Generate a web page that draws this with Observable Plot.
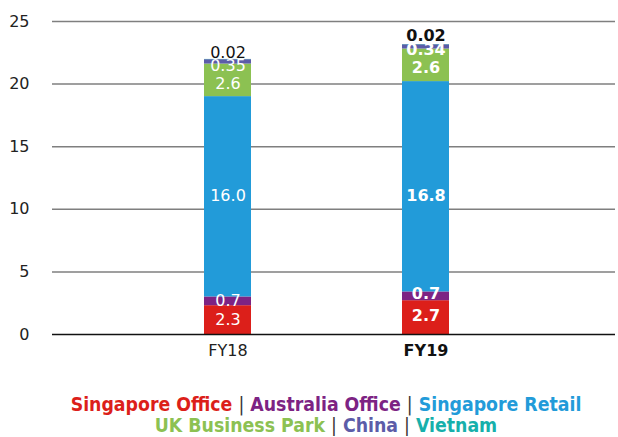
<!DOCTYPE html>
<html>
<head>
<meta charset="utf-8">
<script src="https://cdn.jsdelivr.net/npm/d3@7"></script>
<script src="https://cdn.jsdelivr.net/npm/@observablehq/plot@0.6"></script>
<style>
  html, body { margin: 0; padding: 0; background: #fff; overflow: hidden; font-family: "DejaVu Sans", sans-serif; }
  #chart svg { display: block; }
  #legend { box-sizing: border-box; width: 618px; padding-left: 34px; text-align: center; font-family: "DejaVu Sans Condensed", "DejaVu Sans", sans-serif; font-weight: bold; font-size: 19.3px; line-height: 21px; margin-top: 22px; white-space: nowrap; }
  #legend .sep { color: #333; font-weight: normal; }
</style>
</head>
<body>
<div id="chart"></div>
<div id="legend"></div>
<script>
const years = ["FY18", "FY19"];
const segments = ["Singapore Office", "Australia Office", "Singapore Retail", "UK Business Park", "China", "Vietnam"];
const colors = ["#dc1f1a", "#7d2383", "#229bd9", "#8cc152", "#5c5ca8", "#17b0ab"];
const fy18 = [2.3, 0.7, 16.0, 2.6, 0.35, 0.02];
const fy19 = [2.7, 0.7, 16.8, 2.6, 0.34, 0.02];
const yTicks = [0, 5, 10, 15, 20, 25];

const data = [];
[fy18, fy19].forEach((vals, i) => vals.forEach((v, j) => data.push({year: years[i], segment: segments[j], value: v})));
const fmt = v => v >= 1 ? v.toFixed(1) : String(v);

const labels = (yr, weight, segs, fill, dy) => Plot.text(data.filter(d => d.year === yr), Plot.stackY({
  x: "year", y: "value", z: "segment",
  text: d => segs.includes(d.segment) ? fmt(d.value) : "",
  fill, fontSize: 16, fontWeight: weight, dy
}));
const low = segments.slice(0, 2), mid = segments.slice(2, 3), high = segments.slice(3, 5), peak = segments.slice(5);

const chart = Plot.plot({
  width: 618,
  height: 372,
  marginTop: 21,
  marginBottom: 38,
  marginLeft: 52,
  marginRight: 3,
  style: {fontFamily: "DejaVu Sans, sans-serif", fontSize: "16px", color: "#222"},
  x: {domain: years, paddingInner: 0.763, paddingOuter: 0.803, align: 0.478, label: null},
  y: {domain: [0, 25], label: null},
  color: {domain: segments, range: colors},
  marks: [
    Plot.ruleY(yTicks.filter(t => t > 0), {stroke: "#7f7f7f", strokeWidth: 1.5}),
    Plot.axisY(yTicks, {tickSize: 0, tickPadding: 23, label: null, fontSize: 16, fill: "#222"}),
    Plot.barY(data, {x: "year", y: "value", fill: "segment", inset: 0}),
    Plot.ruleY([0], {stroke: "#111", strokeWidth: 1.5}),
    Plot.axisX(["FY18"], {tickSize: 0, tickPadding: 10, label: null, fontSize: 16, fill: "#222"}),
    Plot.axisX(["FY19"], {tickSize: 0, tickPadding: 10, label: null, fontSize: 16, fontWeight: "bold", fill: "#111"}),
    labels("FY18", "normal", low, "white", 0),
    labels("FY19", "bold", low, "white", -2),
    labels("FY18", "normal", mid, "white", -1),
    labels("FY19", "bold", mid, "white", 9),
    labels("FY18", "normal", high, "white", 3.5),
    labels("FY19", "bold", high, "white", 3),
    labels("FY18", "normal", peak, "#111", -7),
    labels("FY19", "bold", peak, "#111", -9)
  ]
});
document.getElementById("chart").appendChild(chart);

const legend = document.getElementById("legend");
const lines = [[0, 1, 2], [3, 4, 5]];
legend.innerHTML = lines.map(idx => idx.map(i =>
  `<span style="color:${colors[i]}">${segments[i]}</span>`).join(' <span class="sep">|</span> ')).join("<br>");
</script>
</body>
</html>
